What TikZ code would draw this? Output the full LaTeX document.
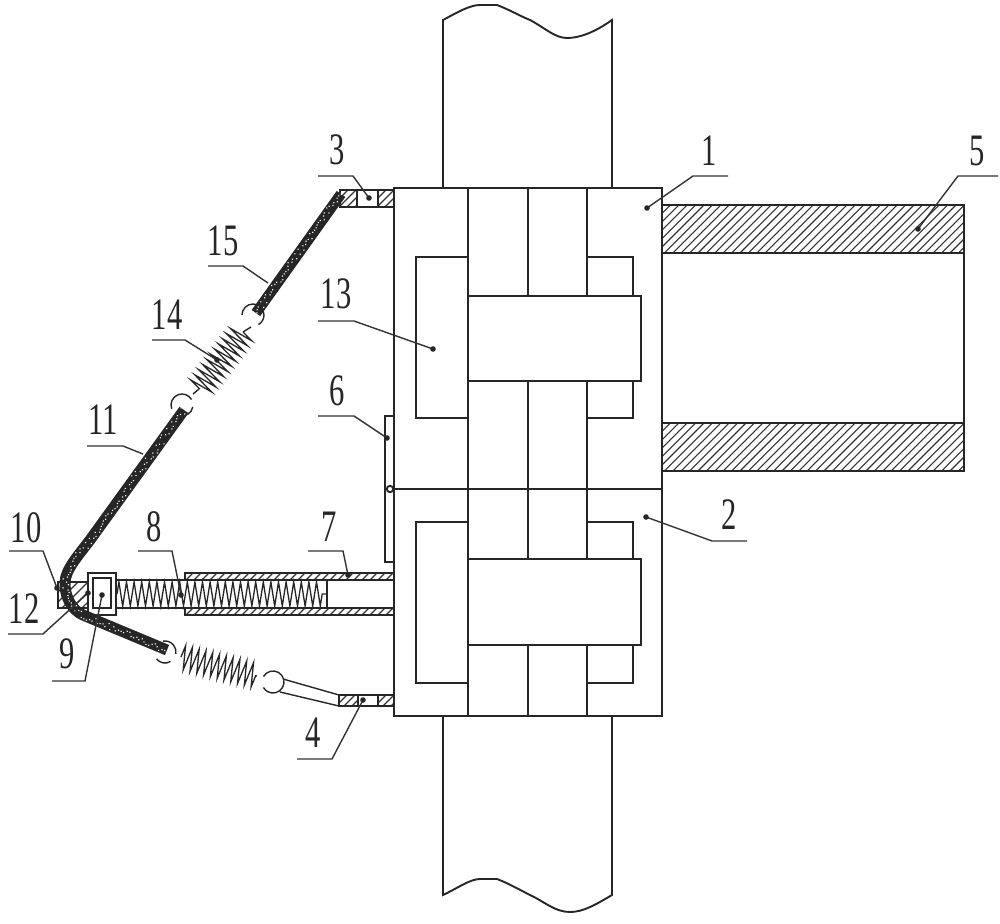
\documentclass[tikz,border=0pt]{standalone}
\usepackage{fontspec}
\setmainfont{Liberation Serif}
\usetikzlibrary{decorations.pathmorphing,decorations.markings}
\newcommand\lbl[4]{\node[lab] (#1) at (#2,#3) {\scalebox{.68}[1]{#4}};}
% leader: start, corner, end; with a dot at end
\newcommand\leaderdot[4]{\coordinate (#1s) at (#2); \coordinate (#1c) at (#3); \coordinate (#1d) at (#4);
  \draw[lead] (#1s) -- (#1c) -- (#1d); \fill[ink] (#1d) circle[radius=2.8];}
\newcommand\leaderplain[4]{\coordinate (#1s) at (#2); \coordinate (#1c) at (#3); \coordinate (#1d) at (#4);
  \draw[lead] (#1s) -- (#1c) -- (#1d);}
\newcommand\hatchbox[5]{%
  \begin{scope}
    \fill[white] (#1,#2) rectangle (#3,#4);
    \clip (#1,#2) rectangle (#3,#4);
    \pgfmathsetmacro\hh{#4-#2}
    \pgfmathtruncatemacro\nn{((#3-#1)+(#4-#2))/#5+1}
    \foreach \i in {0,...,\nn}{
      \pgfmathsetmacro\xx{#1-\hh+\i*#5}
      \draw[hatchline] (\xx,#4) -- (\xx+\hh,#2);
    }
  \end{scope}
  \draw[main] (#1,#2) rectangle (#3,#4);}
\newcommand\rope[2]{%
  \draw[ink,line width=#1,line join=round] #2;
  \path[decorate,decoration={markings,mark=between positions 0 and 1 step 2.8pt with {
    \pgfmathsetmacro\oo{(#1/2-1.8)*rand}
    \fill[white] (0,\oo) circle[radius=0.8];}}] #2;}
\tikzset{
  ink/.style={color=black!85},
  main/.style={draw=black!85,line width=1.9},
  thinl/.style={draw=black!85,line width=1.4},
  hatchline/.style={draw=black!80,line width=1.1},
  lead/.style={draw=black!80,line width=1.4},
  lab/.style={inner sep=0,anchor=base,text=black!85,font=\fontsize{45}{45}\selectfont},
  coil/.style={draw=black!85,line width=1.3,decorate,decoration={zigzag,segment length=#1,amplitude=12pt}}
}
\begin{document}
\begin{tikzpicture}[x=1pt,y=-1pt]
\pgfmathsetseed{7}
\useasboundingbox (0,0) rectangle (1000,923);
\fill[white] (0,0) rectangle (1000,923);
% column
\draw[main] (443,188) -- (443,20) .. controls (458,12) and (470,5) .. (480,5) -- (497,5)
  .. controls (510,10) and (520,16) .. (530,20) .. controls (545,28) and (555,38) .. (567,38)
  .. controls (580,38) and (595,32) .. (612,20) -- (612,188);
\draw[main] (443,716) -- (443,895) .. controls (458,888) and (470,879) .. (480,879) -- (497,879)
  .. controls (510,884) and (520,890) .. (530,895) .. controls (545,902) and (555,912) .. (570,912)
  .. controls (583,912) and (595,905) .. (612,895) -- (612,716);
% main body
\draw[main] (394,188) rectangle (662,716);
\draw[main] (394,489) -- (662,489);
\draw[main] (468,188) -- (468,716);
\draw[main] (528,188) -- (528,296) (528,381) -- (528,559) (528,645) -- (528,716);
\draw[main] (587,188) -- (587,296) (587,381) -- (587,559) (587,645) -- (587,716);
\draw[main] (468,296) -- (641,296) -- (641,381) -- (468,381);
\draw[main] (468,559) -- (641,559) -- (641,645) -- (468,645);
\draw[main] (468,257) -- (416,257) -- (416,418) -- (468,418);
\draw[main] (468,522) -- (416,522) -- (416,683) -- (468,683);
\draw[main] (587,257) -- (633,257) -- (633,296) (633,381) -- (633,418) -- (587,418);
\draw[main] (587,522) -- (633,522) -- (633,559) (633,645) -- (633,683) -- (587,683);
% arm 5
\hatchbox{662}{205}{964}{253}{8.4}
\hatchbox{662}{423}{964}{471}{8.4}
\draw[main] (964,253) -- (964,423);
% plate 6
\draw[main] (385,416) rectangle (394,562);
\draw[main,fill=white] (390,489) circle[radius=3.2];
% ear 3
\hatchbox{340}{190}{357}{207}{8}
\hatchbox{378}{190}{394}{207}{8}
\draw[main] (357,190) -- (378,190) (357,207) -- (378,207);
% ear 4
\hatchbox{339}{695}{358}{706}{8}
\hatchbox{378}{695}{394}{706}{8}
\draw[main] (358,695) -- (378,695) (358,706) -- (378,706);
\draw[thinl] (339,695) -- (283,679) (339,706) -- (280,692);
% tube 7
\hatchbox{185}{573}{394}{580}{8}
\hatchbox{185}{608}{394}{615}{8}
\draw[main] (116,580) -- (185,580) (116,608) -- (185,608);
\draw[main] (327,580) -- (327,608);
\coordinate (sa) at (117,594); \coordinate (sb) at (326,594);
\draw[coil=7.6pt] (sa) -- (sb);
% slider 9 and head 12
\hatchbox{58}{582}{88}{608}{10}
\draw[main,fill=white] (88,573) rectangle (116,615);
\draw[main,fill=white] (93,578) rectangle (111,608);
% rings
\draw[thinl] ([shift={(180:11)}]253,315) arc[start angle=180,end angle=420,radius=11];
\draw[thinl] ([shift={(160:11)}]182,405) arc[start angle=160,end angle=330,radius=11];
\draw[thinl] ([shift={(10:11)}]182,405) arc[start angle=10,end angle=60,radius=11];
\draw[thinl] ([shift={(260:11)}]165,652) arc[start angle=260,end angle=370,radius=11];
\draw[thinl] ([shift={(60:11)}]165,652) arc[start angle=60,end angle=140,radius=11];
\draw[thinl] ([shift={(210:11)}]273,682) arc[start angle=210,end angle=510,radius=11];
% springs
\coordinate (u1) at (243,332); \coordinate (u2) at (199,389);
\draw[coil=6.5pt] (u1) -- (u2);
\draw[thinl] (u1) -- (251,327);
\draw[thinl] (u2) -- (193,394);
\coordinate (l1) at (181,657); \coordinate (l2) at (257,676);
\draw[coil=7pt] (l1) -- (l2);
% ropes
\rope{10.5}{(341,194) -- (256,313)}
\rope{11}{(184,410) -- (90,540) .. controls (78,556) and (65,570) .. (65,583) .. controls (65,600) and (74,611) .. (83,615) -- (167,650)}
% labels
\lbl{n1}{709}{165}{1}
\lbl{n5}{977}{165}{5}
\lbl{n3}{337}{164}{3}
\lbl{n2}{729}{529}{2}
\lbl{n4}{313}{747}{4}
\lbl{n6}{337}{405}{6}
\lbl{n7}{329}{541}{7}
\lbl{n8}{154}{541}{8}
\lbl{n9}{67}{668}{9}
\lbl{n10}{26}{542}{10}
\lbl{n11}{103}{434}{11}
\lbl{n12}{24}{623}{12}
\lbl{n13}{336}{308}{13}
\lbl{n14}{167}{329}{14}
\lbl{n15}{223}{255}{15}
% leaders
\leaderdot{a}{728,176}{693,176}{647,208}
\leaderdot{b}{998,176}{958,176}{918,229}
\leaderdot{c}{747,541}{712,541}{646,517}
\leaderdot{d}{318,176}{353,176}{369,198}
\leaderplain{e}{208,266}{243,266}{268,283}
\leaderdot{f}{152,340}{185,340}{217,360}
\leaderdot{g}{318,321}{354,321}{433,349}
\leaderdot{h}{318,416}{354,416}{387,438}
\leaderplain{i}{87,446}{123,446}{143,454}
\leaderdot{j}{9,551}{43,551}{57,588}
\leaderdot{k}{138,551}{172,551}{181,595}
\leaderdot{m}{308,551}{343,551}{348,575}
\leaderdot{o}{8,634}{43,634}{88,593}
\leaderdot{p}{52,681}{85,681}{102,595}
\leaderdot{q}{297,759}{332,759}{363,700}
\end{tikzpicture}
\end{document}
